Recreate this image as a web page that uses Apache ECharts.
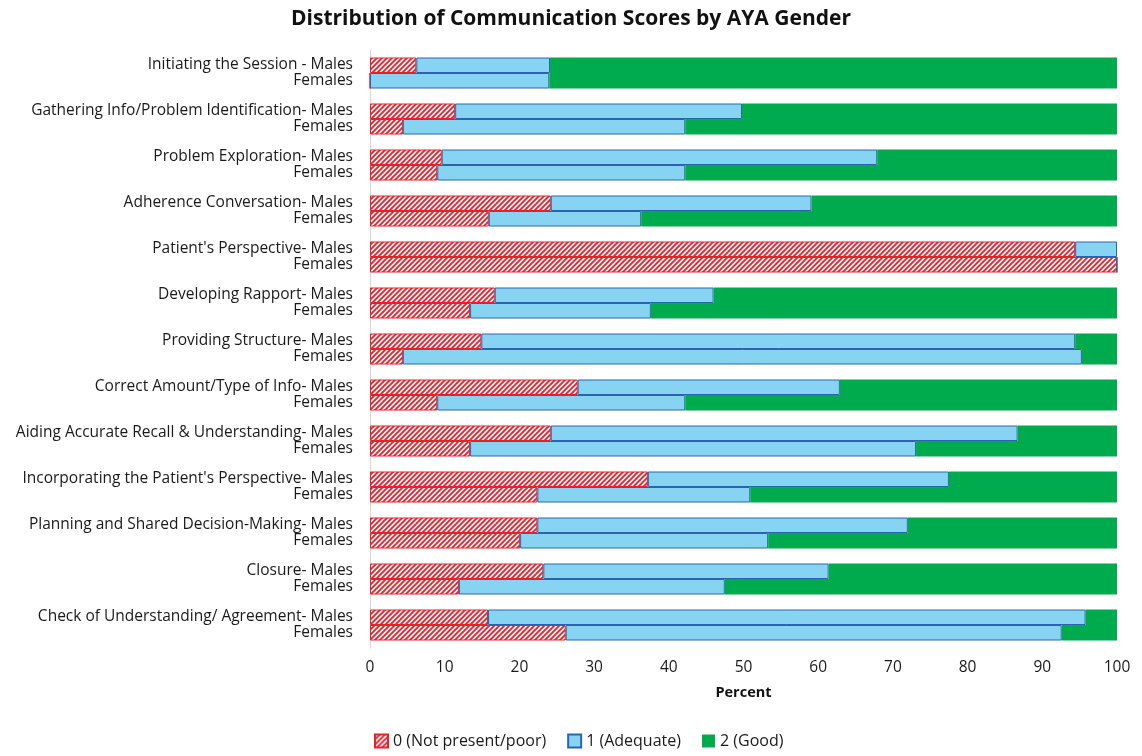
<!DOCTYPE html>
<html><head><meta charset="utf-8">
<script src="https://cdn.jsdelivr.net/npm/echarts@6/dist/echarts.min.js"></script>
<style>html,body{margin:0;padding:0;background:#fff}#c{width:1142px;height:756px}</style>
</head><body><div id="c"></div>
<script>
const categories = [
  "Initiating the Session - Males",
  "Gathering Info/Problem Identification- Males",
  "Problem Exploration- Males",
  "Adherence Conversation- Males",
  "Patient's Perspective- Males",
  "Developing Rapport- Males",
  "Providing Structure- Males",
  "Correct Amount/Type of Info- Males",
  "Aiding Accurate Recall & Understanding- Males",
  "Incorporating the Patient's Perspective- Males",
  "Planning and Shared Decision-Making- Males",
  "Closure- Males",
  "Check of Understanding/ Agreement- Males"
];
const secondLineLabel = "Females";
const levelNames = ["0 (Not present/poor)", "1 (Adequate)", "2 (Good)"];
const xTicks = [0, 10, 20, 30, 40, 50, 60, 70, 80, 90, 100];

const malesPoor     = [6.2, 11.4, 9.6, 24.2, 94.4, 16.7, 14.9, 27.8, 24.2, 37.2, 22.4, 23.2, 15.8];
const malesAdequate = [17.9, 38.4, 58.3, 34.9, 5.6, 29.3, 79.5, 35.1, 62.5, 40.3, 49.6, 38.2, 80.0];
const malesGood     = [75.9, 50.2, 32.1, 40.9, 0, 54.0, 5.6, 37.1, 13.3, 22.5, 28.0, 38.6, 4.2];

const femalesPoor     = [0, 4.4, 9.0, 15.9, 100, 13.4, 4.4, 9.0, 13.4, 22.4, 20.1, 11.9, 26.2];
const femalesAdequate = [24.0, 37.8, 33.2, 20.4, 0, 24.2, 90.9, 33.2, 59.7, 28.5, 33.2, 35.6, 66.4];
const femalesGood     = [76.0, 57.8, 57.8, 63.7, 0, 62.4, 4.7, 57.8, 26.9, 49.1, 46.7, 52.5, 7.4];

function hatch() {
  const s = 5;
  const cv = document.createElement('canvas');
  cv.width = s; cv.height = s;
  const ctx = cv.getContext('2d');
  ctx.fillStyle = '#ffffff';
  ctx.fillRect(0, 0, s, s);
  ctx.strokeStyle = '#ee1c25';
  ctx.lineWidth = 1.8;
  ctx.beginPath();
  ctx.moveTo(0, s); ctx.lineTo(s, 0);
  ctx.moveTo(-1, 1); ctx.lineTo(1, -1);
  ctx.moveTo(s - 1, s + 1); ctx.lineTo(s + 1, s - 1);
  ctx.stroke();
  return cv;
}
const hatchImg = hatch();

const styles = [
  { color: { image: hatchImg, repeat: 'repeat' }, borderColor: '#e8202a', borderWidth: 1 },
  { color: '#86d4f2', borderColor: '#2a64b0', borderWidth: 1 },
  { color: '#00ab4e', borderWidth: 0 }
];

const maleData = [malesPoor, malesAdequate, malesGood];
const femaleData = [femalesPoor, femalesAdequate, femalesGood];
const series = [];
for (let i = 0; i < 3; i++) {
  series.push({ name: levelNames[i], type: 'bar', stack: 'males', data: maleData[i],
    itemStyle: styles[i], barWidth: 15.5, barGap: '0%', emphasis: { disabled: true } });
}
for (let i = 0; i < 3; i++) {
  series.push({ name: levelNames[i], type: 'bar', stack: 'females', data: femaleData[i],
    itemStyle: styles[i], barWidth: 15.5, barGap: '0%', emphasis: { disabled: true } });
}

const FONT = 'Open Sans';
const chart = echarts.init(document.getElementById('c'), null, { renderer: 'canvas' });
chart.setOption({
  animation: false,
  backgroundColor: '#ffffff',
  title: {
    text: 'Distribution of Communication Scores by AYA Gender',
    left: 'center', top: 4,
    textStyle: { fontFamily: FONT, fontSize: 21, fontWeight: 'bold', color: '#111' }
  },
  legend: {
    data: levelNames,
    left: 369, bottom: 2,
    itemWidth: 13, itemHeight: 13, itemGap: 21,
    icon: 'rect',
    textStyle: { fontFamily: FONT, fontSize: 16, color: '#1a1a1a' }
  },
  grid: { left: 370, right: 25, top: 50, bottom: 108, containLabel: false },
  xAxis: {
    type: 'value', min: 0, max: 100, interval: 10,
    name: 'Percent', nameLocation: 'middle', nameGap: 37,
    nameTextStyle: { fontFamily: FONT, fontSize: 14.5, fontWeight: 'bold', color: '#111' },
    axisLabel: { fontFamily: FONT, fontSize: 15.5, color: '#1a1a1a', margin: 12,
      formatter: v => xTicks.includes(v) ? String(v) : '' },
    splitLine: { show: false }, axisLine: { show: false }, axisTick: { show: false }
  },
  yAxis: {
    type: 'category', inverse: true, data: categories,
    axisLine: { show: true, lineStyle: { color: '#e6d0d0' } },
    axisTick: { show: false },
    axisLabel: {
      fontFamily: FONT, fontSize: 15.5, color: '#1a1a1a', margin: 17, align: 'right',
      lineHeight: 16,
      formatter: v => v + '\n' + secondLineLabel
    }
  },
  series: series
});
</script></body></html>
